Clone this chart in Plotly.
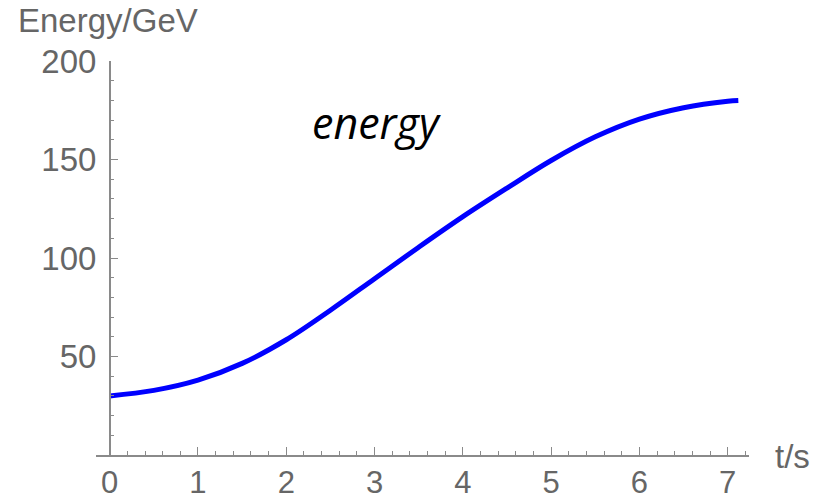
import plotly.graph_objects as go

# ---- data ----
t_values = [0.0, 0.5, 1.0, 1.5, 2.0, 2.5, 3.0, 3.5, 4.0, 4.5, 5.0, 5.5, 6.0, 6.5, 7.0, 7.12]
energy_values = [30.0, 32.8, 38.0, 46.5, 58.5, 73.5, 89.5, 105.5, 121.0, 135.5, 149.5, 161.5, 170.5, 176.3, 179.6, 180.0]
x_tick_vals = [0, 1, 2, 3, 4, 5, 6, 7]
y_tick_vals = [50, 100, 150, 200]
y_label = "Energy/GeV"
x_label = "t/s"
curve_label = "energy"

# ---- layout geometry (pixels) ----
W, H = 818, 500
L, R = 96, 749       # x-axis line extent
T, B = 61, 455.3     # y = 200 and y = 0
pw, ph = R - L, B - T

def px(xp):
    return (xp - L) / pw

def py(yp):
    return 1 - (yp - T) / ph

grey = "#666666"
axis_col = "#8a8a8a"
tick_font = dict(family="Liberation Sans, Arial, sans-serif", size=33, color=grey)
xtick_font = dict(family="Liberation Sans, Arial, sans-serif", size=31, color=grey)

fig = go.Figure()
fig.add_trace(go.Scatter(
    x=t_values, y=energy_values, mode="lines",
    line=dict(color="#0000ff", width=5, shape="spline", smoothing=1.0),
    hoverinfo="skip", showlegend=False,
))

fig.update_layout(
    width=W, height=H,
    margin=dict(l=L, r=W - R, t=T, b=H - B, pad=0, autoexpand=False),
    paper_bgcolor="white", plot_bgcolor="white",
    xaxis=dict(
        range=[(L - 109.7) / 88.29, (R - 109.7) / 88.29],
        showgrid=False, zeroline=False, automargin=False,
        showline=True, linecolor=axis_col, linewidth=1.5,
        tickvals=x_tick_vals, ticks="inside", ticklen=8, tickwidth=1.3, tickcolor=axis_col,
        minor=dict(dtick=0.2, tick0=0, ticks="inside", ticklen=4, tickwidth=1, tickcolor=axis_col),
        tickfont=xtick_font, ticklabelstandoff=-1,
        anchor="y", fixedrange=True,
    ),
    yaxis=dict(
        range=[0, 200],
        showgrid=False, zeroline=False, automargin=False,
        showline=True, linecolor=axis_col, linewidth=1.5,
        tickvals=y_tick_vals, ticks="inside", ticklen=8, tickwidth=1.3, tickcolor=axis_col,
        minor=dict(dtick=10, tick0=0, ticks="inside", ticklen=4, tickwidth=1, tickcolor=axis_col),
        tickfont=tick_font, ticklabelstandoff=6,
        anchor="free", position=px(109.7), fixedrange=True,
    ),
    annotations=[
        dict(text=y_label, xref="paper", yref="paper", x=px(16), y=py(20),
             xanchor="left", yanchor="middle", showarrow=False,
             font=dict(family="Liberation Sans, Arial, sans-serif", size=33, color=grey)),
        dict(text=x_label, xref="paper", yref="paper", x=px(773), y=py(457),
             xanchor="left", yanchor="middle", showarrow=False,
             font=dict(family="Liberation Sans, Arial, sans-serif", size=33, color=grey)),
        dict(text=curve_label, xref="paper", yref="paper", x=px(376), y=py(123),
             xanchor="center", yanchor="middle", showarrow=False,
             font=dict(family="Open Sans, sans-serif", size=43, color="black", style="italic")),
    ],
)

fig.write_html("out.html", config={"displayModeBar": False})
